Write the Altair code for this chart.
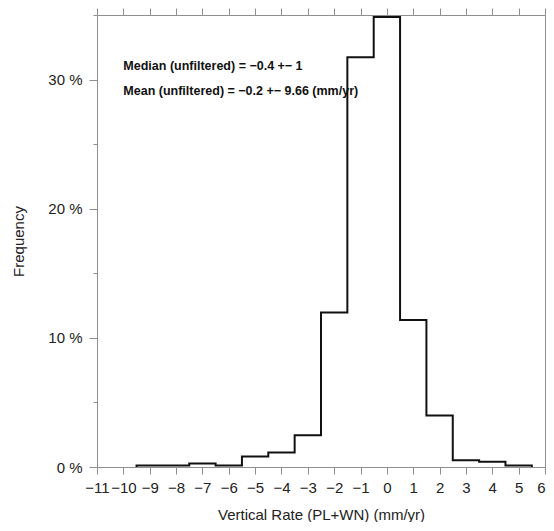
import altair as alt
import pandas as pd

# ---- data ----
bin_centers = [-9, -8, -7, -6, -5, -4, -3, -2, -1, 0, 1, 2, 3, 4, 5]
frequency = [0.12, 0.12, 0.28, 0.12, 0.82, 1.12, 2.45, 11.96, 31.73, 34.85,
             11.39, 3.98, 0.52, 0.41, 0.12]
bin_width = 1.0

x_ticks = list(range(-11, 7))
y_ticks = [0, 5, 10, 15, 20, 25, 30, 35]

note_text = ["Median (unfiltered) = \u22120.4 +\u2212 1",
             "Mean (unfiltered) = \u22120.2 +\u2212 9.66 (mm/yr)"]
note_x = [-10, -10]
note_y = [30.73, 28.8]

# ---- build tables ----
edges = [c - bin_width / 2 for c in bin_centers]
xs = [edges[0]] + edges + [edges[-1] + bin_width]
ys = [0] + frequency + [0]
outline = pd.DataFrame({"x": xs, "y": ys, "order": list(range(len(xs)))})
notes = pd.DataFrame({"x": note_x, "y": note_y, "text": note_text})

GREY = "#8f8f8f"
LABEL = "#222222"
FONT = "Liberation Sans"

xscale = alt.Scale(domain=[-11, 6], nice=False, zero=False)
yscale = alt.Scale(domain=[0, 35], nice=False, zero=False)

line = alt.Chart(outline).mark_line(
    interpolate="step-after", color="#111111", strokeWidth=2
).encode(
    x=alt.X("x:Q", scale=xscale, axis=alt.Axis(
        orient="bottom", values=x_ticks, format="d", grid=False,
        domainColor=GREY, tickColor=GREY, tickSize=7, labelPadding=6,
        labelFontSize=15, labelColor=LABEL, labelOverlap=False, labelFlush=False,
        labelAlign={"condition": {"test": "datum.value === 6", "value": "right"},
                    "value": "center"},
        title="Vertical Rate (PL+WN) (mm/yr)", titleFontSize=15,
        titleFontWeight="normal", titleColor=LABEL, titleBaseline="alphabetic",
        titleY=52)),
    y=alt.Y("y:Q", scale=yscale, axis=alt.Axis(
        orient="left", values=y_ticks, grid=False,
        labelExpr="datum.value % 10 === 0 ? datum.value + ' %' : ''",
        domainColor=GREY, tickColor=GREY,
        tickSize={"condition": {"test": "datum.value % 10 === 0", "value": 8}, "value": 4},
        labelPadding=7, labelFontSize=15, labelColor=LABEL,
        title="Frequency", titleFontSize=15, titleFontWeight="normal",
        titleColor=LABEL, titleBaseline="alphabetic", titleX=-74)),
    order="order:Q",
)

text = alt.Chart(notes).mark_text(
    align="left", baseline="alphabetic", fontSize=12.5, fontWeight="bold",
    color="#111111"
).encode(
    x=alt.X("x:Q", scale=xscale, axis=alt.Axis(
        orient="top", values=x_ticks, labels=False, grid=False,
        domainColor=GREY, tickColor=GREY, tickSize=7, title=None)),
    y=alt.Y("y:Q", scale=yscale, axis=alt.Axis(
        orient="right", values=y_ticks, labels=False, grid=False,
        domainColor=GREY, tickColor=GREY, tickSize=4, title=None)),
    text="text:N",
)

chart = alt.layer(line, text).properties(
    width=448, height=452,
    padding={"left": 89, "top": 7, "right": 1, "bottom": 55},
    autosize=alt.AutoSizeParams(type="none"),
).configure(font=FONT).configure_view(stroke="transparent")

chart.save("out.html", embed_options={"renderer": "svg", "actions": False})
